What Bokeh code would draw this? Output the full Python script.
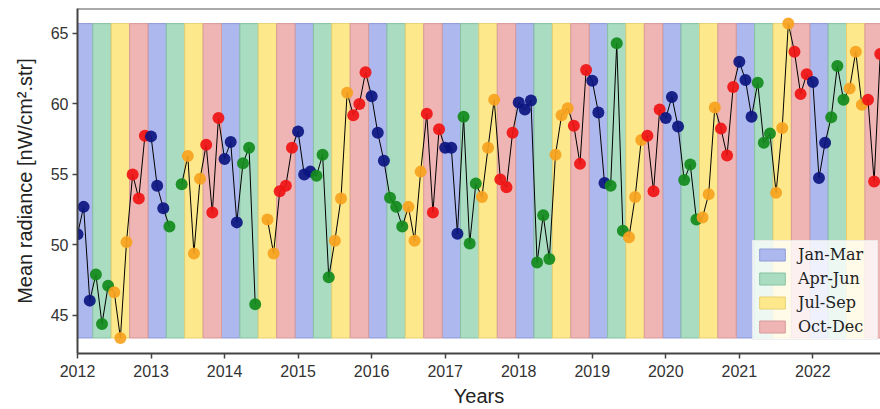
import math
from bokeh.plotting import figure
from bokeh.models import (Legend, LegendItem, FixedTicker, ColumnDataSource,
                          Range1d, Span)
from bokeh.embed import file_html
from bokeh.resources import INLINE

nan = float("nan")

# ---- data (monthly mean radiance, Jan..Dec) ----
years = list(range(2012, 2023))
v2012 = [50.75, 52.7, 46.05, 47.9, 44.4, 47.1, 46.65, 43.4, 50.2, 55.0, 53.3, 57.75]
v2013 = [57.7, 54.2, 52.6, 51.3, nan, 54.3, 56.3, 49.4, 54.7, 57.1, 52.3, 59.0]
v2014 = [56.1, 57.3, 51.6, 55.8, 56.9, 45.8, nan, 51.8, 49.4, 53.8, 54.2, 56.9]
v2015 = [58.05, 55.0, 55.2, 54.9, 56.4, 47.7, 50.3, 53.3, 60.8, 59.2, 60.0, 62.25]
v2016 = [60.55, 57.95, 55.97, 53.35, 52.7, 51.3, 52.7, 50.3, 55.2, 59.3, 52.3, 58.2]
v2017 = [56.9, 56.9, 50.8, 59.1, 50.1, 54.35, 53.4, 56.9, 60.3, 54.65, 54.1, 57.95]
v2018 = [60.1, 59.6, 60.25, 48.75, 52.1, 49.0, 56.4, 59.2, 59.7, 58.45, 55.75, 62.4]
v2019 = [61.65, 59.4, 54.4, 54.2, 64.3, 51.0, 50.55, 53.4, 57.45, 57.75, 53.8, 59.6]
v2020 = [59.0, 60.5, 58.4, 54.6, 55.7, 51.8, 51.95, 53.6, 59.75, 58.25, 56.35, 61.2]
v2021 = [63.0, 61.7, 59.1, 61.5, 57.25, 57.9, 53.7, 58.3, 65.7, 63.7, 60.7, 62.1]
v2022 = [61.55, 54.75, 57.25, 59.05, 62.7, 60.3, 61.1, 63.7, 59.95, 60.3, 54.5, 63.55]

quarter_labels = ["Jan-Mar", "Apr-Jun", "Jul-Sep", "Oct-Dec"]
y_ticks = [45, 50, 55, 60, 65]

# ---- styles ----
point_colors = ["#0b1580", "#138a1c", "#f7a21e", "#f01414"]
band_colors = ["#adb8ee", "#a9dcc1", "#fde98c", "#efb4b4"]
band_edges = ["#8e9ad6", "#86c2a2", "#e8d070", "#d89a9a"]

values = (v2012 + v2013 + v2014 + v2015 + v2016 + v2017 + v2018 + v2019
          + v2020 + v2021 + v2022)
n = len(values)
t = [years[0] + i / 12 for i in range(n)]
quarter = [(i % 12) // 3 for i in range(n)]
valid = [v for v in values if not math.isnan(v)]
vmin, vmax = min(valid), max(valid)

p = figure(width=880, height=409,
           x_range=Range1d(2012, 2022.92), y_range=Range1d(42.3, 66.77),
           output_backend="svg", toolbar_location=None,
           min_border_left=77, min_border_right=0, min_border_top=8,
           min_border_bottom=56)
p.outline_line_color = None
p.background_fill_color = "white"
p.xgrid.visible = False
p.ygrid.visible = False

# quarter bands
band_renderers = []
for k in range(4):
    lefts = [years[0] + (12 * j + 3 * k - 0.5) / 12 for j in range(len(years))]
    rights = [l + 3 / 12 for l in lefts]
    r = p.quad(left=lefts, right=rights, bottom=vmin, top=vmax,
               fill_color=band_colors[k], fill_alpha=1.0,
               line_color=band_edges[k], line_width=1)
    band_renderers.append(r)

# line and points
p.line(t, values, line_color="black", line_width=1)
src = ColumnDataSource(dict(t=t, v=values,
                            c=[point_colors[q] for q in quarter]))
p.scatter("t", "v", source=src, size=12, fill_color="c", line_color=None,
          fill_alpha=0.92)

# top spine
p.add_layout(Span(location=66.77, dimension="width", line_color="#555555",
                  line_width=2))

# axes
for ax in (p.xaxis[0], p.yaxis[0]):
    ax.axis_line_color = "#444444"
    ax.axis_line_width = 2
    ax.major_tick_line_color = "#444444"
    ax.major_tick_line_width = 1.5
    ax.major_tick_out = 5
    ax.major_tick_in = 0
    ax.minor_tick_line_color = None
    ax.major_label_text_font = "Liberation Sans"
    ax.major_label_text_font_size = "16px"
    ax.major_label_text_color = "#333333"
    ax.axis_label_text_font = "Liberation Sans"
    ax.axis_label_text_font_size = "20px"
    ax.axis_label_text_font_style = "normal"
    ax.axis_label_text_color = "#222222"

p.xaxis.ticker = FixedTicker(ticks=years)
p.yaxis.ticker = FixedTicker(ticks=y_ticks)
p.xaxis.axis_label = "Years"
p.yaxis.axis_label = "Mean radiance [nW/cm².str]"
p.xaxis.major_label_standoff = 6
p.xaxis.axis_label_standoff = 5
p.yaxis.major_label_standoff = 4
p.yaxis.axis_label_standoff = 12

legend = Legend(items=[LegendItem(label=lab, renderers=[r])
                       for lab, r in zip(quarter_labels, band_renderers)],
                location=(675, 13))
legend.label_text_font = "DejaVu Serif"
legend.label_text_font_size = "16px"
legend.label_text_color = "#222222"
legend.glyph_width = 32
legend.glyph_height = 15
legend.label_height = 20
legend.label_width = 76
legend.label_standoff = 10
legend.spacing = 4
legend.padding = 3
legend.margin = 0
legend.background_fill_color = "white"
legend.background_fill_alpha = 0.8
legend.border_line_color = "#dddddd"
p.add_layout(legend)

open("out.html", "w").write(file_html(p, INLINE))
